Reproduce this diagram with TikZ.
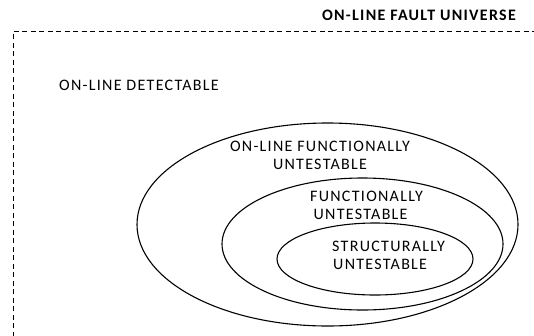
\documentclass[tikz,border=0pt]{standalone}
\usepackage{fontspec}
\setmainfont[LetterSpace=8]{Carlito}
\begin{document}
\begin{tikzpicture}[x=1pt,y=-1pt,
  ell/.style={draw=black, line width=1.1pt},
  lbl/.style={font=\fontsize{16}{18}\selectfont, align=center, inner sep=0pt},
  lbll/.style={lbl, align=left, anchor=west},
  frame/.style={draw=black, line width=0.9pt, dash pattern=on 5pt off 3.5pt}]
\useasboundingbox (0,0) rectangle (534,335);
\draw[frame] (13,345) -- (13,31) -- (545,31);
\node[lbl, font=\fontsize{16}{18}\selectfont\bfseries, anchor=east] (univ) at (516,15) {ON-LINE FAULT UNIVERSE};
\node[lbl, anchor=west] (det) at (59,85) {ON-LINE DETECTABLE};
\draw[ell] (327.5,224.5) ellipse [x radius=190.5, y radius=101.5];
\draw[ell] (362.5,244) ellipse [x radius=140.5, y radius=66];
\draw[ell] (375,259) ellipse [x radius=98, y radius=36];
\node[lbl] (olfu) at (320,155.5) {ON-LINE FUNCTIONALLY\\UNTESTABLE};
\node[lbll] (fu) at (310,205) {FUNCTIONALLY\\\hspace*{3.5pt}UNTESTABLE};
\node[lbll] (su) at (332,255) {STRUCTURALLY\\\hspace*{1pt}UNTESTABLE};
\end{tikzpicture}
\end{document}
